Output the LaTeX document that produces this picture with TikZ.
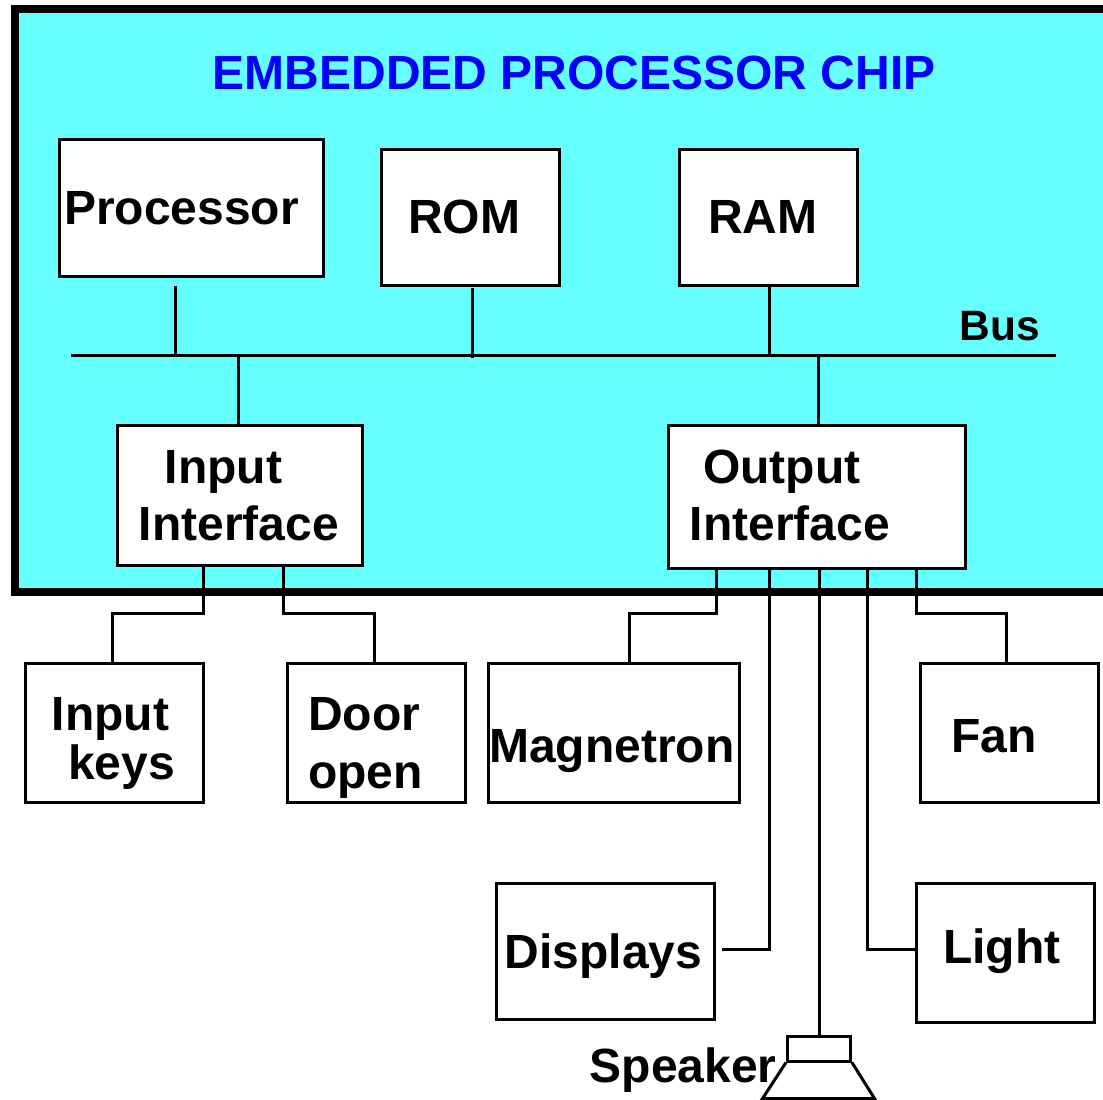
\documentclass[tikz,border=0pt]{standalone}
\usepackage{fontspec}
\setmainfont{Liberation Sans}
\definecolor{chipcyan}{RGB}{102,255,255}
\tikzset{
  unit/.style={draw,line width=3pt,fill=white,inner sep=0pt},
  lbl/.style={anchor=base west,inner sep=0pt,font=\fontsize{48}{50}\selectfont\bfseries},
  wire/.style={line width=3pt,line join=miter}
}
\begin{document}
\begin{tikzpicture}[x=1pt,y=-1pt]
  \useasboundingbox (0,0)rectangle(1103,1100);
  \begin{scope}[shift={(-.5,0)}]
  % chip
  \draw[line width=8pt,fill=chipcyan](15,9)rectangle(1120,592);
  \node[lbl,blue](title) at (213,89){EMBEDDED PROCESSOR CHIP};
  % boxes
  \node[unit,minimum width=264pt,minimum height=137pt](proc) at (191.5,207.5){};
  \node[unit,minimum width=178pt,minimum height=136pt](rom) at (470.5,217){};
  \node[unit,minimum width=178pt,minimum height=136pt](ram) at (768.5,217){};
  \node[unit,minimum width=245pt,minimum height=140pt](inif) at (240,495){};
  \node[unit,minimum width=297pt,minimum height=143pt](outif) at (817,496.5){};
  \node[unit,minimum width=178pt,minimum height=139pt](keys) at (114.5,732.5){};
  \node[unit,minimum width=178pt,minimum height=139pt](door) at (376.5,732.5){};
  \node[unit,minimum width=251pt,minimum height=139pt](magn) at (614,732.5){};
  \node[unit,minimum width=178pt,minimum height=139pt](fan) at (1009.5,732.5){};
  \node[unit,minimum width=218pt,minimum height=136pt](disp) at (605.5,951){};
  \node[unit,minimum width=178pt,minimum height=139pt](light) at (1005.5,952.5){};
  % speaker
  \node[unit,fill=none,minimum width=63pt,minimum height=25pt](spk) at (819.5,1048.5){};
  \draw[wire](spk.south west)--(763,1098.5)--(875,1098.5)--(spk.south east);
  % labels
  \node[lbl](lproc) at (64.5,224.5){Processor};
  \node[lbl](lrom) at (408.5,233.5){ROM};
  \node[lbl](lram) at (708.5,233.5){RAM};
  \node[lbl,font=\fontsize{42.5}{50}\selectfont\bfseries](lbus) at (960,340.5){Bus};
  \node[lbl](linif) at (165,483.5){Input};
  \node[lbl](linif2) at (139,540.5){Interface};
  \node[lbl](loutif) at (703.5,483.5){Output};
  \node[lbl](loutif2) at (690,540.5){Interface};
  \node[lbl](lkeys) at (52,730.5){Input};
  \node[lbl](lkeys2) at (68.5,779){keys};
  \node[lbl](ldoor) at (308.5,730.5){Door};
  \node[lbl](ldoor2) at (308.5,788.5){open};
  \node[lbl](lmagn) at (489.5,762){Magnetron};
  \node[lbl](lfan) at (951.5,752){Fan};
  \node[lbl](ldisp) at (505,968){Displays};
  \node[lbl](llight) at (943.5,963.5){Light};
  \node[lbl](lspk) at (590,1082.5){Speaker};
  % bus
  \coordinate(busl) at (71,355);
  \coordinate(busr) at (1056,355);
  \draw[wire](busl)--(busr);
  \coordinate(tproc) at (176.3,286);
  \coordinate(trom) at (473.3,288);
  \draw[wire](tproc)--(tproc|-busl);
  \draw[wire](trom)--(473.3,358);
  \draw[wire](ram.south-|770.3,0)--(770.3,355);
  \draw[wire](239.3,355)--(inif.north-|239.3,0);
  \draw[wire](819.3,355)--(outif.north-|819.3,0);
  % input side
  \draw[wire](inif.south-|204.3,0)--(204.3,613)-|(keys.north-|113.3,0);
  \draw[wire](inif.south-|284.3,0)--(284.3,613)-|(door.north-|375.3,0);
  % output side
  \draw[wire](outif.south-|717.3,0)--(717.3,613)-|(magn.north-|630.3,0);
  \coordinate(tdisp) at (722,949);
  \draw[wire](outif.south-|770.3,0)|-(tdisp);
  \draw[wire](outif.south-|819.5,0)--(spk.north);
  \draw[wire](outif.south-|868.3,0)|-(light.west|-0,949);
  \draw[wire](outif.south-|917.3,0)--(917.3,613)-|(fan.north-|1007.3,0);
  \end{scope}
\end{tikzpicture}
\end{document}
